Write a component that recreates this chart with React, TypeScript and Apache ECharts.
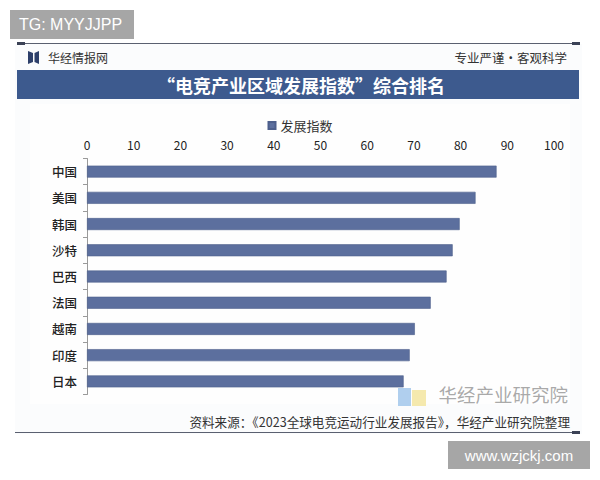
import React, { useEffect, useRef } from "react";
import * as echarts from "echarts";

const categories = ["中国", "美国", "韩国", "沙特", "巴西", "法国", "越南", "印度", "日本"];
const devIndex = [87.7, 83.2, 79.8, 78.3, 77.0, 73.6, 70.2, 69.1, 67.8];
const seriesName = "发展指数";
const titleText = "“电竞产业区域发展指数”综合排名";
const sourceText = "资料来源：《2023全球电竞运动行业发展报告》，华经产业研究院整理";

export default function App() {
  const ref = useRef<HTMLDivElement>(null);
  useEffect(() => {
    document.body.style.margin = "0";
    const chart = echarts.init(ref.current!, null, { renderer: "svg" });
    const cjk = '"Noto Sans CJK SC", "Noto Sans", sans-serif';
    chart.setOption({
      animation: false,
      backgroundColor: "#ffffff",
      textStyle: { fontFamily: cjk },
      legend: {
        top: 114,
        left: "center",
        data: [seriesName],
        icon: "rect",
        itemWidth: 7,
        itemHeight: 7,
        itemGap: 4,
        textStyle: { fontSize: 13, color: "#333", fontFamily: cjk },
      },
      grid: { left: 87, right: 46, top: 158.5, bottom: 85.5, containLabel: false },
      xAxis: {
        type: "value",
        position: "top",
        min: 0,
        max: 100,
        interval: 10,
        axisLine: { show: false },
        axisTick: { show: false },
        splitLine: { show: false },
        axisLabel: { fontSize: 12, color: "#222", margin: 8, fontFamily: cjk },
      },
      yAxis: {
        type: "category",
        inverse: true,
        data: categories,
        axisLine: { show: true, lineStyle: { color: "#9a9a9a", width: 1 } },
        axisTick: { show: true, length: 4, lineStyle: { color: "#9a9a9a" } },
        axisLabel: { fontSize: 12.5, color: "#222", margin: 10, fontWeight: 500, fontFamily: cjk },
      },
      series: [
        {
          name: seriesName,
          type: "bar",
          data: devIndex,
          barWidth: 12,
          itemStyle: { color: "#5c6f9e", borderColor: "#4d5f8c", borderWidth: 0.6 },
        },
      ],
      graphic: [
        { type: "rect", silent: true, z: -10, shape: { x: 15, y: 44, width: 567, height: 390 }, style: { fill: "#fbfcfd" } },
        { type: "rect", silent: true, z: -9, shape: { x: 30, y: 104, width: 540, height: 300 }, style: { fill: "#fefefe" } },
        { type: "rect", shape: { x: 10, y: 10, width: 124, height: 29 }, style: { fill: "#a6a6a6" } },
        { type: "text", x: 19, y: 24.5, style: { text: "TG: MYYJJPP", fill: "#ffffff", font: '16px "Liberation Sans", Arial, sans-serif', textVerticalAlign: "middle" } },
        { type: "line", shape: { x1: 17, y1: 43.5, x2: 580, y2: 43.5 }, style: { stroke: "#5a6070", lineWidth: 1.2 } },
        { type: "rect", shape: { x: 17, y: 42, width: 8, height: 3 }, style: { fill: "#3b4256" } },
        { type: "rect", shape: { x: 572, y: 42, width: 8, height: 3 }, style: { fill: "#3b4256" } },
        { type: "polygon", shape: { points: [[28, 51], [33, 53], [33, 62], [28, 64]] }, style: { fill: "#2d3f6a" } },
        { type: "polygon", shape: { points: [[34.5, 53], [39, 51], [39, 64], [34.5, 62]] }, style: { fill: "#2d3f6a" } },
        { type: "text", x: 48, y: 57.5, style: { text: "华经情报网", fill: "#333", font: '12px "Noto Sans CJK SC"', textVerticalAlign: "middle" } },
        { type: "text", x: 567, y: 57.5, style: { text: "专业严谨•客观科学", fill: "#333", font: '12.5px "Noto Sans CJK SC"', textAlign: "right", textVerticalAlign: "middle" } },
        { type: "rect", shape: { x: 17, y: 70, width: 562, height: 29 }, style: { fill: "#3d5a8e" } },
        { type: "text", x: 301, y: 85, style: { text: titleText, fill: "#ffffff", font: 'bold 18px "Noto Sans CJK SC"', textAlign: "center", textVerticalAlign: "middle" } },
        { type: "rect", shape: { x: 398, y: 388, width: 13, height: 18 }, style: { fill: "#9cc3ea", opacity: 0.8 } },
        { type: "rect", shape: { x: 412, y: 390, width: 14, height: 16 }, style: { fill: "#f3e39a", opacity: 0.8 } },
        { type: "text", x: 568, y: 394, style: { text: "华经产业研究院", fill: "#9a9a9a", font: '18.5px "Noto Sans CJK SC"', textAlign: "right", textVerticalAlign: "middle", opacity: 0.85 } },
        { type: "text", x: 570, y: 421.5, style: { text: sourceText, fill: "#333", font: '12.6px "Noto Sans CJK SC"', textAlign: "right", textVerticalAlign: "middle" } },
        { type: "line", shape: { x1: 15, y1: 432.5, x2: 580, y2: 432.5 }, style: { stroke: "#5a6070", lineWidth: 1.2 } },
        { type: "rect", shape: { x: 572, y: 431, width: 8, height: 3 }, style: { fill: "#3b4256" } },
        { type: "rect", shape: { x: 448, y: 441, width: 142, height: 28 }, style: { fill: "#a6a6a6" } },
        { type: "text", x: 519, y: 455, style: { text: "www.wzjckj.com", fill: "#ffffff", font: '15px "Liberation Sans", Arial, sans-serif', textAlign: "center", textVerticalAlign: "middle" } },
      ],
    });
    return () => chart.dispose();
  }, []);
  return <div ref={ref} style={{ width: 600, height: 480 }} />;
}
